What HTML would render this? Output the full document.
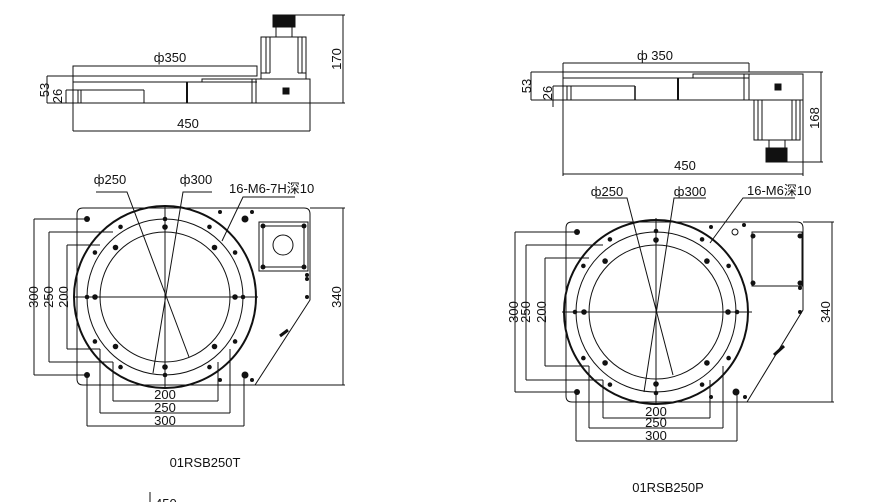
<!DOCTYPE html>
<html><head><meta charset="utf-8"><style>
html,body{margin:0;padding:0;background:#fff;}
svg{display:block;}
text{font-family:"Liberation Sans","Noto Sans CJK SC",sans-serif;font-size:13px;fill:#111;}
</style></head><body>
<svg id="s" width="885" height="502" viewBox="0 0 885 502" xmlns="http://www.w3.org/2000/svg" stroke="#111" fill="none" stroke-width="1">
<!-- ===== LEFT TOP VIEW ===== -->
<rect x="73" y="66" width="184" height="10"/>
<line x1="47" y1="76" x2="257" y2="76"/>
<line x1="73" y1="82" x2="257" y2="82"/>
<line x1="47" y1="103" x2="345" y2="103"/>
<line x1="47" y1="76" x2="47" y2="103"/>
<line x1="66" y1="90" x2="144" y2="90"/>
<line x1="66" y1="90" x2="66" y2="103"/>
<line x1="73" y1="76" x2="73" y2="131"/>
<line x1="78" y1="90" x2="78" y2="103"/>
<line x1="81" y1="90" x2="81" y2="103"/>
<line x1="144" y1="90" x2="144" y2="103"/>
<line x1="187" y1="82" x2="187" y2="103" stroke-width="2"/>
<polyline points="202,82 202,79 257,79"/>
<line x1="252" y1="79" x2="252" y2="103"/>
<rect x="256" y="79" width="54" height="24"/>
<rect x="283" y="88" width="6" height="6" fill="#111"/>
<rect x="261" y="37" width="45" height="42"/>
<line x1="266" y1="37" x2="266" y2="73"/><line x1="270" y1="37" x2="270" y2="73"/>
<line x1="298" y1="37" x2="298" y2="73"/><line x1="302" y1="37" x2="302" y2="73"/>
<line x1="261" y1="73" x2="270" y2="73"/><line x1="298" y1="73" x2="306" y2="73"/>
<rect x="276" y="27" width="16" height="10"/>
<rect x="273" y="15" width="22" height="12" fill="#111"/>
<line x1="295" y1="15" x2="345" y2="15"/>
<line x1="343" y1="15" x2="343" y2="103"/>
<line x1="310" y1="103" x2="310" y2="131"/>
<line x1="73" y1="131" x2="310" y2="131"/>
<text x="170" y="62" text-anchor="middle" stroke="none">ф350</text>
<text x="188" y="128" text-anchor="middle" stroke="none">450</text>
<text transform="translate(49,90) rotate(-90)" text-anchor="middle" stroke="none">53</text>
<text transform="translate(62,96) rotate(-90)" text-anchor="middle" stroke="none">26</text>
<text transform="translate(341,59) rotate(-90)" text-anchor="middle" stroke="none">170</text>

<!-- ===== RIGHT TOP VIEW ===== -->
<line x1="563" y1="63" x2="749" y2="63"/>
<line x1="563" y1="63" x2="563" y2="176"/>
<line x1="749" y1="63" x2="749" y2="72"/>
<line x1="531" y1="72" x2="803" y2="72"/>
<line x1="563" y1="78" x2="749" y2="78"/>
<line x1="531" y1="100" x2="803" y2="100"/>
<line x1="531" y1="72" x2="531" y2="100"/>
<line x1="553" y1="86" x2="635" y2="86"/>
<line x1="553" y1="86" x2="553" y2="107"/>
<line x1="567" y1="86" x2="567" y2="100"/><line x1="571" y1="86" x2="571" y2="100"/>
<line x1="635" y1="86" x2="635" y2="100" stroke-width="1.5"/>
<line x1="678" y1="78" x2="678" y2="100" stroke-width="2"/>
<polyline points="693,78 693,74 749,74"/>
<line x1="744" y1="74" x2="744" y2="100"/>
<rect x="749" y="74" width="54" height="26"/>
<line x1="803" y1="72" x2="823" y2="72"/>
<rect x="775" y="84" width="6" height="6" fill="#111"/>
<rect x="754" y="100" width="46" height="40"/>
<line x1="758" y1="100" x2="758" y2="140"/><line x1="762" y1="100" x2="762" y2="140"/>
<line x1="792" y1="100" x2="792" y2="140"/><line x1="796" y1="100" x2="796" y2="140"/>
<rect x="769" y="140" width="16" height="8"/>
<rect x="766" y="148" width="21" height="14" fill="#111"/>
<line x1="787" y1="162" x2="823" y2="162"/>
<line x1="821" y1="72" x2="821" y2="162"/>
<line x1="803" y1="100" x2="803" y2="176"/>
<line x1="563" y1="174" x2="803" y2="174"/>
<text x="655" y="60" text-anchor="middle" stroke="none">ф 350</text>
<text x="685" y="170" text-anchor="middle" stroke="none">450</text>
<text transform="translate(531,86) rotate(-90)" text-anchor="middle" stroke="none">53</text>
<text transform="translate(552,93) rotate(-90)" text-anchor="middle" stroke="none">26</text>
<text transform="translate(819,118) rotate(-90)" text-anchor="middle" stroke="none">168</text>

<!-- ===== LEFT FRONT VIEW ===== -->
<path d="M83,208 H304 Q310,208 310,214 V300 L255,385 H83 Q77,385 77,379 V214 Q77,208 83,208 Z"/>
<line x1="310" y1="208" x2="345" y2="208"/>
<line x1="255" y1="385" x2="345" y2="385"/>
<line x1="343" y1="208" x2="343" y2="385"/>
<text transform="translate(341,297) rotate(-90)" text-anchor="middle" stroke="none">340</text>
<rect x="259" y="222" width="49" height="49"/>
<rect x="263" y="226" width="41" height="41"/>
<circle cx="283" cy="245" r="10"/>
<g fill="#111" stroke="none">
<circle cx="263" cy="226" r="2.5"/><circle cx="304" cy="226" r="2.5"/><circle cx="263" cy="267" r="2.5"/><circle cx="304" cy="267" r="2.5"/>
<circle cx="307" cy="275" r="2"/><circle cx="307" cy="279" r="2"/><circle cx="307" cy="297" r="2"/>
<circle cx="220" cy="212" r="2"/><circle cx="220" cy="380" r="2"/><circle cx="252" cy="380" r="2"/><circle cx="252" cy="212" r="2"/>
<circle cx="245" cy="219" r="3.5"/><circle cx="245" cy="375" r="3.5"/>
<circle cx="87" cy="219" r="3"/><circle cx="87" cy="375" r="3"/>
</g>
<line x1="280" y1="336" x2="288" y2="330" stroke-width="3"/>
<circle cx="165" cy="297" r="91" stroke-width="2"/>
<circle cx="165" cy="297" r="78"/>
<circle cx="165" cy="297" r="65"/>
<line x1="73" y1="297" x2="258" y2="297"/>
<line x1="165" y1="205" x2="165" y2="388"/>
<g id="hL"></g>
<line x1="34" y1="219" x2="87" y2="219"/><line x1="34" y1="375" x2="87" y2="375"/><line x1="34" y1="219" x2="34" y2="375"/>
<line x1="49" y1="232" x2="113" y2="232"/><line x1="49" y1="362" x2="113" y2="362"/><line x1="49" y1="232" x2="49" y2="362"/>
<line x1="67" y1="245" x2="100" y2="245"/><line x1="67" y1="349" x2="100" y2="349"/><line x1="67" y1="245" x2="67" y2="349"/>
<text transform="translate(38,297) rotate(-90)" text-anchor="middle" stroke="none">300</text>
<text transform="translate(53,297) rotate(-90)" text-anchor="middle" stroke="none">250</text>
<text transform="translate(68,297) rotate(-90)" text-anchor="middle" stroke="none">200</text>
<line x1="113" y1="362" x2="113" y2="401"/><line x1="218" y1="362" x2="218" y2="401"/><line x1="113" y1="401" x2="218" y2="401"/>
<line x1="100" y1="349" x2="100" y2="413"/><line x1="230" y1="349" x2="230" y2="413"/><line x1="100" y1="413" x2="230" y2="413"/>
<line x1="87" y1="375" x2="87" y2="426"/><line x1="244" y1="375" x2="244" y2="426"/><line x1="87" y1="426" x2="244" y2="426"/>
<text x="165" y="399" text-anchor="middle" stroke="none">200</text>
<text x="165" y="412" text-anchor="middle" stroke="none">250</text>
<text x="165" y="425" text-anchor="middle" stroke="none">300</text>
<text x="110" y="184" text-anchor="middle" stroke="none">ф250</text>
<polyline points="96,192 127,192 189,357"/>
<text x="196" y="184" text-anchor="middle" stroke="none">ф300</text>
<polyline points="212,192 183,192 153,373"/>
<text x="229" y="193" stroke="none">16-M6-7H深10</text>
<polyline points="295,197 243,197 222,241"/>
<text x="205" y="467" text-anchor="middle" stroke="none">01RSB250T</text>
<line x1="150" y1="492" x2="150" y2="502"/>
<text x="155" y="508" stroke="none">450</text>

<!-- ===== RIGHT FRONT VIEW ===== -->
<path d="M572,222 H797 Q803,222 803,228 V310 L747,402 H572 Q566,402 566,396 V228 Q566,222 572,222 Z"/>
<line x1="803" y1="222" x2="834" y2="222"/>
<line x1="747" y1="402" x2="834" y2="402"/>
<line x1="832" y1="222" x2="832" y2="402"/>
<text transform="translate(830,312) rotate(-90)" text-anchor="middle" stroke="none">340</text>
<rect x="752" y="232" width="50" height="54"/>
<g fill="#111" stroke="none">
<circle cx="753" cy="236" r="2.5"/><circle cx="800" cy="236" r="2.5"/><circle cx="753" cy="283" r="2.5"/><circle cx="800" cy="283" r="2.5"/>
<circle cx="800" cy="288" r="2"/><circle cx="800" cy="312" r="2"/>
<circle cx="711" cy="227" r="2"/><circle cx="711" cy="397" r="2"/><circle cx="745" cy="397" r="2"/><circle cx="744" cy="225" r="2"/>
<circle cx="736" cy="392" r="3.5"/><circle cx="577" cy="392" r="3"/><circle cx="577" cy="232" r="3"/>
</g>
<circle cx="735" cy="232" r="3"/>
<line x1="774" y1="355" x2="784" y2="346" stroke-width="3"/>
<circle cx="656" cy="312" r="92" stroke-width="2"/>
<circle cx="656" cy="312" r="80"/>
<circle cx="656" cy="312" r="67"/>
<line x1="562" y1="312" x2="752" y2="312"/>
<line x1="656" y1="218" x2="656" y2="404"/>
<g id="hR"></g>
<line x1="515" y1="232" x2="577" y2="232"/><line x1="515" y1="392" x2="577" y2="392"/><line x1="515" y1="232" x2="515" y2="392"/>
<line x1="526" y1="245" x2="603" y2="245"/><line x1="526" y1="380" x2="603" y2="380"/><line x1="526" y1="245" x2="526" y2="380"/>
<line x1="545" y1="258" x2="589" y2="258"/><line x1="545" y1="366" x2="589" y2="366"/><line x1="545" y1="258" x2="545" y2="366"/>
<text transform="translate(518,312) rotate(-90)" text-anchor="middle" stroke="none">300</text>
<text transform="translate(530,312) rotate(-90)" text-anchor="middle" stroke="none">250</text>
<text transform="translate(546,312) rotate(-90)" text-anchor="middle" stroke="none">200</text>
<line x1="603" y1="380" x2="603" y2="418"/><line x1="710" y1="380" x2="710" y2="418"/><line x1="603" y1="418" x2="710" y2="418"/>
<line x1="589" y1="366" x2="589" y2="428"/><line x1="723" y1="366" x2="723" y2="428"/><line x1="589" y1="428" x2="723" y2="428"/>
<line x1="576" y1="392" x2="576" y2="441"/><line x1="737" y1="392" x2="737" y2="441"/><line x1="576" y1="441" x2="737" y2="441"/>
<text x="656" y="416" text-anchor="middle" stroke="none">200</text>
<text x="656" y="427" text-anchor="middle" stroke="none">250</text>
<text x="656" y="440" text-anchor="middle" stroke="none">300</text>
<text x="607" y="196" text-anchor="middle" stroke="none">ф250</text>
<polyline points="597,198 627,198 673,375"/>
<text x="690" y="196" text-anchor="middle" stroke="none">ф300</text>
<polyline points="706,198 674,198 644,392"/>
<text x="747" y="195" stroke="none">16-M6深10</text>
<polyline points="795,198 743,198 710,243"/>
<text x="668" y="492" text-anchor="middle" stroke="none">01RSB250P</text>
</svg>
<script>
function holes(id,cx,cy,rA,rB,rC){
  var g=document.getElementById(id),s='';
  for(var k=0;k<8;k++){var a=k*Math.PI/4;
    s+='<circle cx="'+(cx+rA*Math.cos(a))+'" cy="'+(cy+rA*Math.sin(a))+'" r="2.8" fill="#111" stroke="none"/>';}
  for(var k=0;k<4;k++){var a=k*Math.PI/2;
    s+='<circle cx="'+(cx+rB*Math.cos(a))+'" cy="'+(cy+rB*Math.sin(a))+'" r="2.3" fill="#111" stroke="none"/>';}
  for(var k=0;k<4;k++){for(var d=-1;d<=1;d+=2){var a=Math.PI/4+k*Math.PI/2+d*0.22;
    s+='<circle cx="'+(cx+rC*Math.cos(a))+'" cy="'+(cy+rC*Math.sin(a))+'" r="2.3" fill="#111" stroke="none"/>';}}
  g.innerHTML=s;
}
holes('hL',165,297,70,78,83);
holes('hR',656,312,72,81,86);
</script>
</body></html>
